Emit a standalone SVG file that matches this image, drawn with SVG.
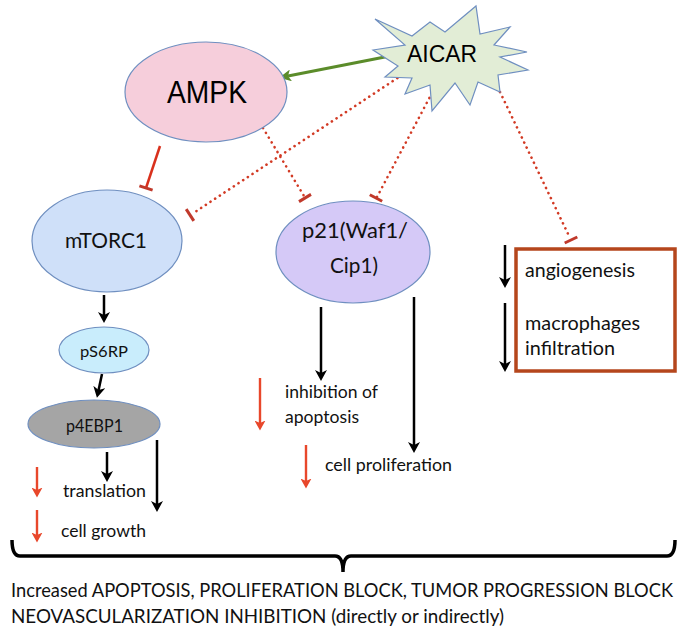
<svg xmlns="http://www.w3.org/2000/svg" width="688" height="633" viewBox="0 0 688 633">
<defs>
<style>
.node{stroke:#6F8FC0;stroke-width:1.2}
.lbl{font-family:Lato,"Open Sans","Liberation Sans",sans-serif;fill:#111}
.big{font-family:"Liberation Sans",Arial,sans-serif;fill:#000}
.blk{stroke:#000;stroke-width:2.5;fill:none}
.red{stroke:#E8472B;stroke-width:2.4;fill:none}
.dot{stroke:#D23A24;stroke-width:2.6;stroke-dasharray:0.1 5.5;stroke-linecap:round;fill:none}
.tee{stroke:#C0392B;stroke-width:3;fill:none}
</style>
<marker id="ab" viewBox="0 0 11 12" markerWidth="11" markerHeight="12" refX="3" refY="6" orient="auto" markerUnits="userSpaceOnUse"><path d="M0,0 L11,6 L0,12 L3,6 z" fill="#000"/></marker>
<marker id="ar" viewBox="0 0 10 11" markerWidth="10" markerHeight="11" refX="2.5" refY="5.5" orient="auto" markerUnits="userSpaceOnUse"><path d="M0,0 L10,5.5 L0,11 L2.5,5.5 z" fill="#E8472B"/></marker>
<marker id="ag" viewBox="0 0 12 12" markerWidth="12" markerHeight="12" refX="3" refY="6" orient="auto" markerUnits="userSpaceOnUse"><path d="M0,0 L12,6 L0,12 L3,6 z" fill="#5B8C2A"/></marker>
</defs>
<rect width="688" height="633" fill="#fff"/>

<g id="connectors">
<line x1="395" y1="55" x2="288" y2="76" stroke="#5B8C2A" stroke-width="3" marker-end="url(#ag)"/>
<line x1="160" y1="146" x2="146" y2="188" stroke="#D9301C" stroke-width="2.5"/>
<line class="tee" x1="139.4" y1="185.8" x2="152.6" y2="190.2"/>
<line class="dot" x1="402" y1="75" x2="192" y2="214"/>
<line class="tee" x1="186.2" y1="209.1" x2="193.8" y2="220.9"/>
<line class="dot" x1="263" y1="128" x2="304" y2="196"/>
<line class="tee" x1="299" y1="201.6" x2="311" y2="194.4"/>
<line class="dot" x1="432" y1="93" x2="377" y2="197"/>
<line class="tee" x1="369.8" y1="194.7" x2="382.2" y2="201.3"/>
<line class="dot" x1="500" y1="92" x2="570" y2="238"/>
<line class="tee" x1="564.7" y1="243" x2="577.3" y2="237"/>
<line class="blk" x1="104" y1="295" x2="104" y2="315" marker-end="url(#ab)"/>
<line class="blk" x1="102" y1="374" x2="98.6" y2="390" marker-end="url(#ab)"/>
<line class="blk" x1="107" y1="452" x2="107" y2="474" marker-end="url(#ab)"/>
<line class="blk" x1="157" y1="440" x2="157" y2="504" marker-end="url(#ab)"/>
<line class="blk" x1="321" y1="307" x2="321" y2="373" marker-end="url(#ab)"/>
<line class="blk" x1="414" y1="297" x2="414" y2="445" marker-end="url(#ab)"/>
<line class="blk" x1="505" y1="245" x2="505" y2="280" marker-end="url(#ab)"/>
<line class="blk" x1="505" y1="303" x2="505" y2="364" marker-end="url(#ab)"/>
<line class="red" x1="37" y1="467" x2="37" y2="490" marker-end="url(#ar)"/>
<line class="red" x1="37" y1="510" x2="37" y2="535" marker-end="url(#ar)"/>
<line class="red" x1="260" y1="378" x2="260" y2="423" marker-end="url(#ar)"/>
<line class="red" x1="306" y1="445" x2="306" y2="481" marker-end="url(#ar)"/>
</g>

<g id="AICAR">
<polygon points="375,19 412,36 430,22 445,32 476,6 480,34 510,27 494,45 527,52 500,57 528,70 498,75 500,92 478,82 470,105 455,83 432,111 430,85 405,94 412,78 385,77 398,66 373,50 405,45" fill="#E2EDD6" stroke="#6F8FC0" stroke-width="1.2"/>
<text class="big" x="407" y="62" font-size="23.5" textLength="70" lengthAdjust="spacingAndGlyphs">AICAR</text>
</g>

<g id="AMPK">
<ellipse class="node" cx="206" cy="92" rx="81" ry="50" fill="#F6CEDB"/>
<text class="big" x="167" y="103" font-size="32" textLength="80" lengthAdjust="spacingAndGlyphs">AMPK</text>
</g>

<g id="mTORC1">
<ellipse class="node" cx="107" cy="241" rx="75" ry="51" fill="#CFE0F9"/>
<text class="lbl" x="65" y="248" font-size="21" textLength="82" lengthAdjust="spacingAndGlyphs">mTORC1</text>
</g>

<g id="p21">
<ellipse class="node" cx="353" cy="252" rx="77" ry="51" fill="#D5C9F7"/>
<text class="lbl" x="302" y="238" font-size="22" textLength="106" lengthAdjust="spacingAndGlyphs">p21(Waf1/</text>
<text class="lbl" x="330" y="273" font-size="22" textLength="48" lengthAdjust="spacingAndGlyphs">Cip1)</text>
</g>

<g id="pS6RP">
<ellipse class="node" cx="104" cy="350" rx="45" ry="23" fill="#C9EDFC"/>
<text class="lbl" x="80" y="357" font-size="16" textLength="48" lengthAdjust="spacingAndGlyphs">pS6RP</text>
</g>

<g id="p4EBP1">
<ellipse class="node" cx="94" cy="424" rx="66" ry="24" fill="#A5A5A5"/>
<text class="lbl" x="66" y="432" font-size="17" textLength="57" lengthAdjust="spacingAndGlyphs">p4EBP1</text>
</g>

<g id="angio-box">
<rect x="516" y="249" width="159" height="122" fill="#fff" stroke="#B5461C" stroke-width="3.5"/>
<text class="lbl" x="525" y="277" font-size="19" textLength="110" lengthAdjust="spacingAndGlyphs">angiogenesis</text>
<text class="lbl" x="525" y="330" font-size="19" textLength="115" lengthAdjust="spacingAndGlyphs">macrophages</text>
<text class="lbl" x="525" y="355" font-size="19" textLength="90" lengthAdjust="spacingAndGlyphs">infiltration</text>
</g>

<g id="labels">
<text class="lbl" x="63" y="497" font-size="17" textLength="83" lengthAdjust="spacingAndGlyphs">translation</text>
<text class="lbl" x="61" y="537" font-size="17" textLength="85" lengthAdjust="spacingAndGlyphs">cell growth</text>
<text class="lbl" x="285" y="398" font-size="17" textLength="93" lengthAdjust="spacingAndGlyphs">inhibition of</text>
<text class="lbl" x="285" y="423" font-size="17" textLength="74" lengthAdjust="spacingAndGlyphs">apoptosis</text>
<text class="lbl" x="325" y="471" font-size="17" textLength="127" lengthAdjust="spacingAndGlyphs">cell proliferation</text>
</g>

<g id="outcome">
<path d="M12,540 Q12,556 20,556 L335,556 Q343,556 343,572 Q343,556 351,556 L667,556 Q675,556 675,540" fill="none" stroke="#000" stroke-width="3.5"/>
<text class="lbl" x="11" y="597" font-size="18.4" textLength="662" lengthAdjust="spacingAndGlyphs">Increased APOPTOSIS, PROLIFERATION BLOCK, TUMOR PROGRESSION BLOCK</text>
<text class="lbl" x="11" y="623" font-size="18.4" textLength="493" lengthAdjust="spacingAndGlyphs">NEOVASCULARIZATION INHIBITION (directly or indirectly)</text>
</g>
</svg>
